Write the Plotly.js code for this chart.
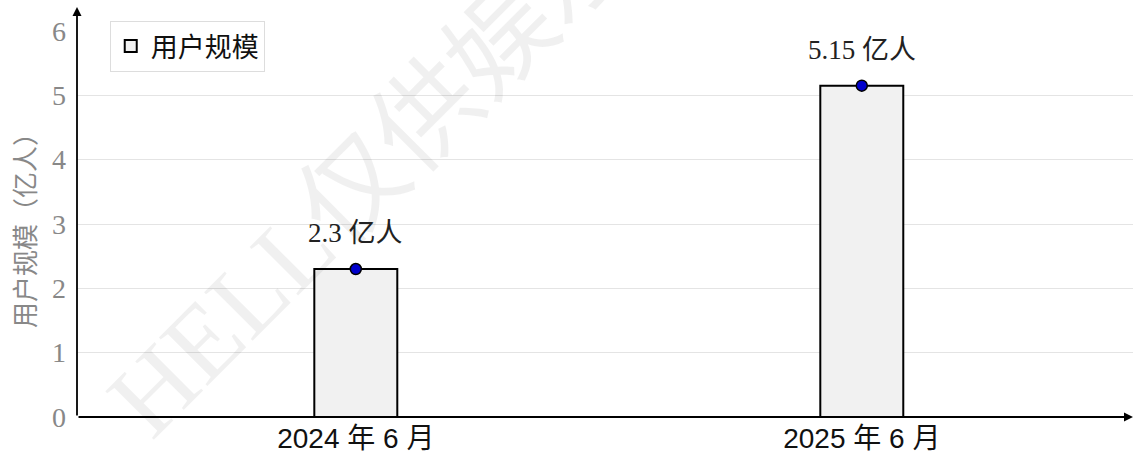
<!DOCTYPE html>
<html>
<head>
<meta charset="utf-8">
<script src="https://cdn.plot.ly/plotly-3.0.1.min.js"></script>
<style>html,body{margin:0;padding:0;background:#fff;}#chart{width:1135px;height:461px;}</style>
</head>
<body>
<div id="chart"></div>
<script>
const categories = ["2024 年 6 月", "2025 年 6 月"];
const userScale = [2.3, 5.15];
const valueLabels = ["2.3 亿人", "5.15 亿人"];
const yTicks = [0, 1, 2, 3, 4, 5, 6];
const seriesName = "用户规模";
const yTitle = "用户规模（亿人）";
const watermark = "HELL仅供娱乐";

const serif = "'Liberation Serif', 'DejaVu Serif', 'Noto Sans CJK SC', serif";
const sans = "'Liberation Sans', Arial, 'Noto Sans CJK SC', sans-serif";

const xpos = categories.map((c, i) => i);

const barTrace = {
  type: 'bar',
  x: xpos,
  y: userScale,
  name: seriesName,
  width: 0.164,
  marker: {color: '#f1f1f1', line: {color: '#000', width: 2}},
  hoverinfo: 'skip'
};
const dotTrace = {
  type: 'scatter',
  mode: 'markers',
  x: xpos,
  y: userScale,
  showlegend: false,
  marker: {color: '#0000cc', size: 11, line: {color: '#000', width: 1.5}},
  hoverinfo: 'skip',
  cliponaxis: false
};

const annotations = valueLabels.map((t, i) => ({
  x: xpos[i], y: userScale[i], xref: 'x', yref: 'y',
  text: t, showarrow: false, yshift: 36,
  font: {family: serif, size: 27, color: '#222'}
}));

// watermark
annotations.unshift({
  xref: 'paper', yref: 'paper', x: 0.2775, y: 0.63,
  xanchor: 'center', yanchor: 'middle',
  text: watermark, showarrow: false, textangle: -45,
  font: {family: serif, size: 105, color: 'rgba(0,0,0,0.06)'}
});

// axis arrows
annotations.push({
  xref: 'paper', yref: 'paper', x: 0, y: 1.062, ax: 0, ay: 410,
  text: '', showarrow: true, arrowhead: 2, arrowsize: 1, arrowwidth: 1.8, arrowcolor: '#000'
});
annotations.push({
  xref: 'paper', yref: 'paper', x: 1, y: 0, ax: -1056, ay: 0,
  text: '', showarrow: true, arrowhead: 2, arrowsize: 1, arrowwidth: 1.8, arrowcolor: '#000'
});

const layout = {
  width: 1135, height: 461,
  margin: {l: 77, r: 2, t: 31, b: 44, pad: 0},
  paper_bgcolor: '#fff', plot_bgcolor: '#fff',
  showlegend: true,
  legend: {
    x: 0.031, y: 1.026, xanchor: 'left', yanchor: 'top',
    bordercolor: '#dddddd', borderwidth: 1, bgcolor: 'rgba(255,255,255,0.9)',
    font: {family: "'Noto Sans CJK SC', sans-serif", size: 27, color: '#111'},
    itemwidth: 30
  },
  xaxis: {
    range: [-0.551, 1.536],
    tickvals: xpos, ticktext: categories,
    showgrid: false, zeroline: false,
    showline: false, ticks: '',
    tickfont: {family: sans, size: 28, color: '#111'},
    ticklabelstandoff: 2,
    fixedrange: true
  },
  yaxis: {
    range: [0, 6],
    tickvals: yTicks,
    showgrid: true, gridcolor: '#e4e4e4', gridwidth: 1,
    zeroline: false, showline: false, ticks: '',
    tickfont: {family: serif, size: 28, color: '#888'},
    ticklabelstandoff: 10,
    title: {text: yTitle, font: {family: "'Noto Sans CJK SC', sans-serif", size: 26, color: '#888'}, standoff: 8},
    fixedrange: true
  },
  annotations: annotations,
  bargap: 0
};

Plotly.newPlot('chart', [barTrace, dotTrace], layout, {displayModeBar: false, staticPlot: true});
</script>
</body>
</html>
